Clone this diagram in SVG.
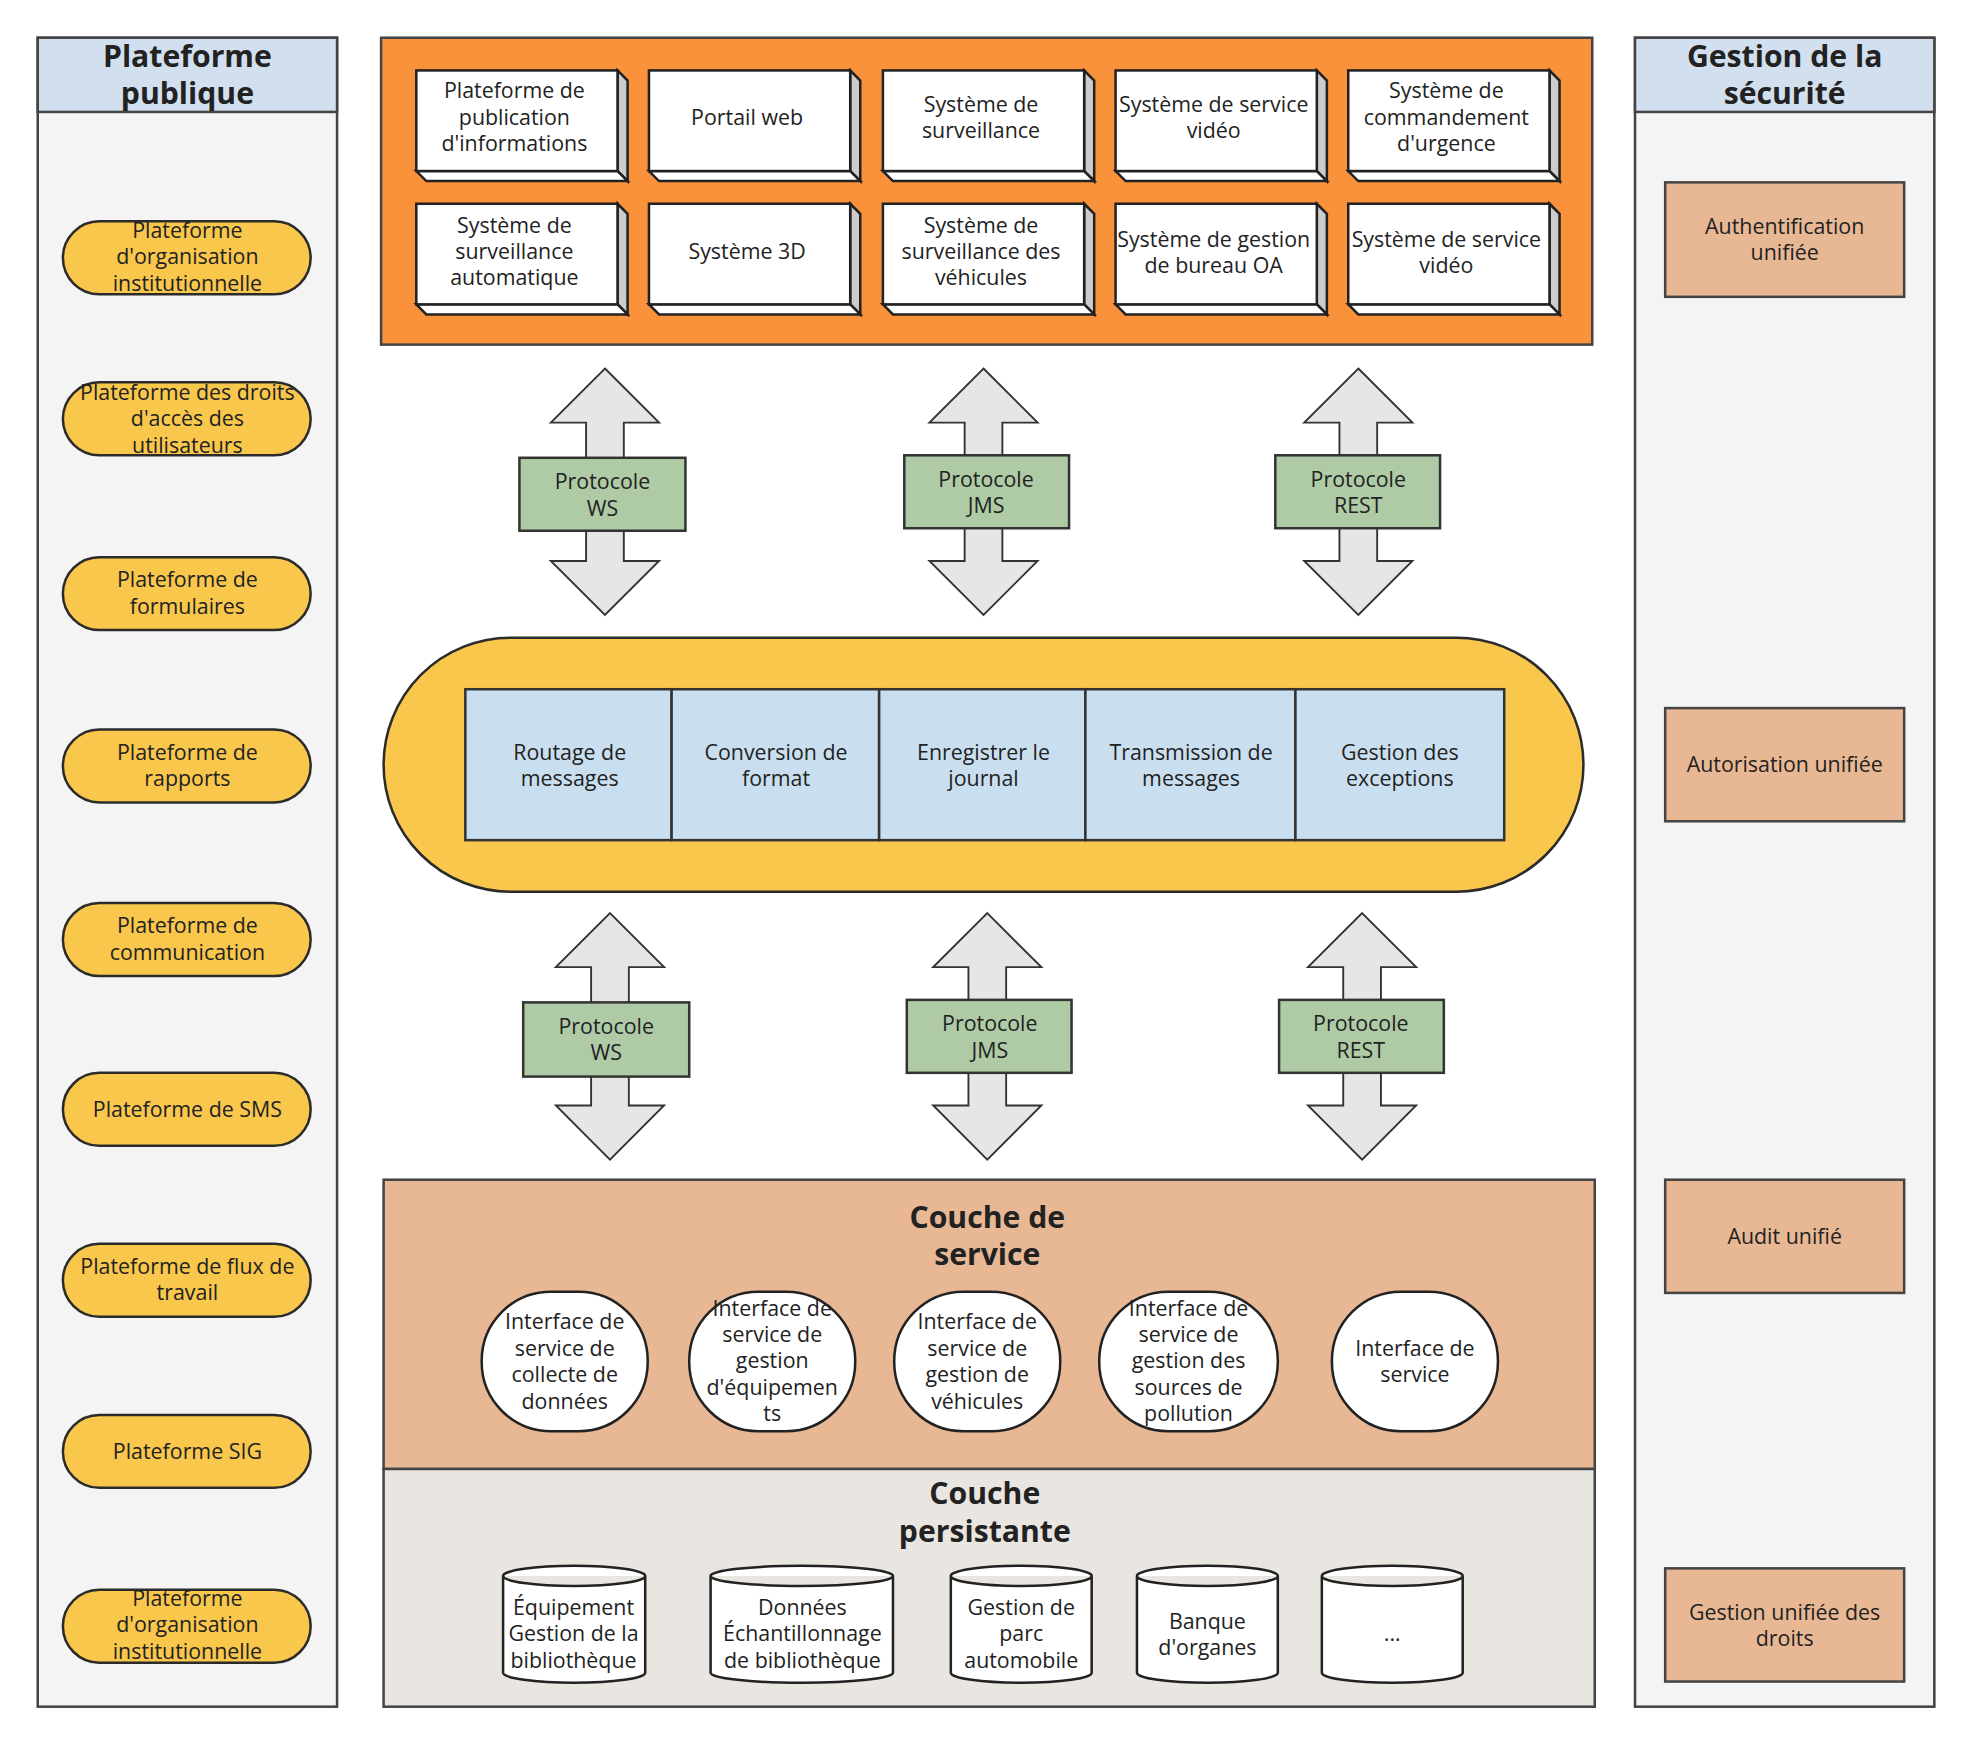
<svg xmlns="http://www.w3.org/2000/svg" width="1972" height="1744" viewBox="0 0 1972 1744">
<defs>
<style>
text{font-family:"Open Sans","Noto Sans","Liberation Sans",sans-serif;font-size:17px;fill:#222;text-anchor:middle}
.t{font-size:24px;font-weight:bold}
.pill{fill:#f9c74c;stroke:#2b2b2b;stroke-width:2}
.hdr{fill:#d1dfee;stroke:#444;stroke-width:2}
.pan{fill:#f4f4f4;stroke:#444;stroke-width:2}
.sec{fill:#e8b894;stroke:#444;stroke-width:2}
.bx{fill:#fff;stroke:#222;stroke-width:2}
.sd{fill:#ccc;stroke:#222;stroke-width:2}
.arr{fill:#e8e6e4;stroke:#333;stroke-width:1.5}
.pr{fill:#aecba6;stroke:#333;stroke-width:2}
.mb{fill:#c9dff0;stroke:#333;stroke-width:2}
.cy{fill:#fff;stroke:#222;stroke-width:2}
</style>
<path id="ar" d="M0,0 L43,43 L15,43 L15,153 L43,153 L0,196 L-43,153 L-15,153 L-15,43 L-43,43 Z"/>
</defs>
<rect width="1972" height="1744" fill="#fff"/>
<g transform="scale(1.2577)">
<g id="left">
<rect class="pan" x="30" y="30" width="238" height="1327"/>
<rect class="hdr" x="30" y="30" width="238" height="59"/>
<text class="t" x="149" y="53">Plateforme</text><text class="t" x="149" y="83">publique</text>
<rect class="pill" x="50" y="176" width="197" height="58" rx="29"/><text x="149" y="189">Plateforme</text><text x="149" y="210">d'organisation</text><text x="149" y="231">institutionnelle</text>
<rect class="pill" x="50" y="304" width="197" height="58" rx="29"/><text x="149" y="318">Plateforme des droits</text><text x="149" y="339">d'accès des</text><text x="149" y="360">utilisateurs</text>
<rect class="pill" x="50" y="443" width="197" height="58" rx="29"/><text x="149" y="467">Plateforme de</text><text x="149" y="488">formulaires</text>
<rect class="pill" x="50" y="580" width="197" height="58" rx="29"/><text x="149" y="604">Plateforme de</text><text x="149" y="625">rapports</text>
<rect class="pill" x="50" y="718" width="197" height="58" rx="29"/><text x="149" y="742">Plateforme de</text><text x="149" y="763">communication</text>
<rect class="pill" x="50" y="853" width="197" height="58" rx="29"/><text x="149" y="888">Plateforme de SMS</text>
<rect class="pill" x="50" y="989" width="197" height="58" rx="29"/><text x="149" y="1013">Plateforme de flux de</text><text x="149" y="1034">travail</text>
<rect class="pill" x="50" y="1125" width="197" height="58" rx="29"/><text x="149" y="1160">Plateforme SIG</text>
<rect class="pill" x="50" y="1264" width="197" height="58" rx="29"/><text x="149" y="1277">Plateforme</text><text x="149" y="1298">d'organisation</text><text x="149" y="1319">institutionnelle</text>
</g>
<g id="right">
<rect class="pan" x="1300" y="30" width="238" height="1327"/>
<rect class="hdr" x="1300" y="30" width="238" height="59"/>
<text class="t" x="1419" y="53">Gestion de la</text><text class="t" x="1419" y="83">sécurité</text>
<rect class="sec" x="1324" y="145" width="190" height="91"/><text x="1419" y="186">Authentification</text><text x="1419" y="207">unifiée</text>
<rect class="sec" x="1324" y="563" width="190" height="90"/><text x="1419" y="614">Autorisation unifiée</text>
<rect class="sec" x="1324" y="938" width="190" height="90"/><text x="1419" y="989">Audit unifié</text>
<rect class="sec" x="1324" y="1247" width="190" height="90"/><text x="1419" y="1288">Gestion unifiée des</text><text x="1419" y="1309">droits</text>
</g>
<g id="apps">
<rect x="303" y="30" width="963" height="244" fill="#fa923c" stroke="#444" stroke-width="2"/>
<g id="b3d">
<g id="c1" transform="translate(331,56)"><path class="sd" d="M160,0 L168,8 L168,88 L160,80 Z"/><path class="bx" d="M0,80 L160,80 L168,88 L8,88 Z"/><rect class="bx" x="0" y="0" width="160" height="80"/></g>
</g>
<use href="#c1" x="185"/><use href="#c1" x="371"/><use href="#c1" x="556"/><use href="#c1" x="741"/>
<use href="#c1" y="106"/><use href="#c1" x="185" y="106"/><use href="#c1" x="371" y="106"/><use href="#c1" x="556" y="106"/><use href="#c1" x="741" y="106"/>
<text x="409" y="78">Plateforme de</text><text x="409" y="99">publication</text><text x="409" y="120">d'informations</text>
<text x="594" y="99">Portail web</text>
<text x="780" y="89">Système de</text><text x="780" y="110">surveillance</text>
<text x="965" y="89">Système de service</text><text x="965" y="110">vidéo</text>
<text x="1150" y="78">Système de</text><text x="1150" y="99">commandement</text><text x="1150" y="120">d'urgence</text>
<text x="409" y="185">Système de</text><text x="409" y="206">surveillance</text><text x="409" y="227">automatique</text>
<text x="594" y="206">Système 3D</text>
<text x="780" y="185">Système de</text><text x="780" y="206">surveillance des</text><text x="780" y="227">véhicules</text>
<text x="965" y="196">Système de gestion</text><text x="965" y="217">de bureau OA</text>
<text x="1150" y="196">Système de service</text><text x="1150" y="217">vidéo</text>
</g>
<g id="connectors">
<use href="#ar" class="arr" x="481" y="293"/><use href="#ar" class="arr" x="782" y="293"/><use href="#ar" class="arr" x="1080" y="293"/>
<use href="#ar" class="arr" x="485" y="726"/><use href="#ar" class="arr" x="785" y="726"/><use href="#ar" class="arr" x="1083" y="726"/>
</g>
<g id="protocols">
<rect class="pr" x="413" y="364" width="132" height="58"/><text x="479" y="389">Protocole</text><text x="479" y="410">WS</text>
<rect class="pr" x="719" y="362" width="131" height="58"/><text x="784" y="387">Protocole</text><text x="784" y="408">JMS</text>
<rect class="pr" x="1014" y="362" width="131" height="58"/><text x="1080" y="387">Protocole</text><text x="1080" y="408">REST</text>
<rect class="pr" x="416" y="797" width="132" height="59"/><text x="482" y="822">Protocole</text><text x="482" y="843">WS</text>
<rect class="pr" x="721" y="795" width="131" height="58"/><text x="787" y="820">Protocole</text><text x="787" y="841">JMS</text>
<rect class="pr" x="1017" y="795" width="131" height="58"/><text x="1082" y="820">Protocole</text><text x="1082" y="841">REST</text>
</g>
<g id="bus">
<rect x="305" y="507" width="954" height="202" rx="101" fill="#f9c74c" stroke="#2b2b2b" stroke-width="2"/>
<rect class="mb" x="370" y="548" width="164" height="120"/><text x="453" y="604">Routage de</text><text x="453" y="625">messages</text>
<rect class="mb" x="534" y="548" width="165" height="120"/><text x="617" y="604">Conversion de</text><text x="617" y="625">format</text>
<rect class="mb" x="699" y="548" width="164" height="120"/><text x="782" y="604">Enregistrer le</text><text x="782" y="625">journal</text>
<rect class="mb" x="863" y="548" width="167" height="120"/><text x="947" y="604">Transmission de</text><text x="947" y="625">messages</text>
<rect class="mb" x="1030" y="548" width="166" height="120"/><text x="1113" y="604">Gestion des</text><text x="1113" y="625">exceptions</text>
</g>
<g id="service">
<rect x="305" y="938" width="963" height="230" fill="#e8b894" stroke="#444" stroke-width="2"/>
<text class="t" x="785" y="976">Couche de</text><text class="t" x="785" y="1006">service</text>
<rect class="bx" x="383" y="1027" width="132" height="111" rx="55"/><text x="449" y="1057">Interface de</text><text x="449" y="1078">service de</text><text x="449" y="1099">collecte de</text><text x="449" y="1120">données</text>
<rect class="bx" x="548" y="1027" width="132" height="111" rx="55"/><text x="614" y="1046">Interface de</text><text x="614" y="1067">service de</text><text x="614" y="1088">gestion</text><text x="614" y="1109">d'équipemen</text><text x="614" y="1130">ts</text>
<rect class="bx" x="711" y="1027" width="132" height="111" rx="55"/><text x="777" y="1057">Interface de</text><text x="777" y="1078">service de</text><text x="777" y="1099">gestion de</text><text x="777" y="1120">véhicules</text>
<rect class="bx" x="874" y="1027" width="142" height="111" rx="55"/><text x="945" y="1046">Interface de</text><text x="945" y="1067">service de</text><text x="945" y="1088">gestion des</text><text x="945" y="1109">sources de</text><text x="945" y="1130">pollution</text>
<rect class="bx" x="1059" y="1027" width="132" height="111" rx="55"/><text x="1125" y="1078">Interface de</text><text x="1125" y="1099">service</text>
</g>
<g id="persist">
<rect x="305" y="1168" width="963" height="189" fill="#e9e5e1" stroke="#444" stroke-width="2"/>
<text class="t" x="783" y="1196">Couche</text><text class="t" x="783" y="1226">persistante</text>
<path class="cy" d="M400,1253 A56.5,8 0 0 1 513,1253 L513,1330 A56.5,8 0 0 1 400,1330 Z M400,1253 A56.5,8 0 0 0 513,1253"/>
<text x="456" y="1284">Équipement</text><text x="456" y="1305">Gestion de la</text><text x="456" y="1326">bibliothèque</text>
<path class="cy" d="M565,1253 A72.5,8 0 0 1 710,1253 L710,1330 A72.5,8 0 0 1 565,1330 Z M565,1253 A72.5,8 0 0 0 710,1253"/>
<text x="638" y="1284">Données</text><text x="638" y="1305">Échantillonnage</text><text x="638" y="1326">de bibliothèque</text>
<path class="cy" d="M756,1253 A56,8 0 0 1 868,1253 L868,1330 A56,8 0 0 1 756,1330 Z M756,1253 A56,8 0 0 0 868,1253"/>
<text x="812" y="1284">Gestion de</text><text x="812" y="1305">parc</text><text x="812" y="1326">automobile</text>
<path class="cy" d="M904,1253 A56,8 0 0 1 1016,1253 L1016,1330 A56,8 0 0 1 904,1330 Z M904,1253 A56,8 0 0 0 1016,1253"/>
<text x="960" y="1295">Banque</text><text x="960" y="1316">d'organes</text>
<path class="cy" d="M1051,1253 A56,8 0 0 1 1163,1253 L1163,1330 A56,8 0 0 1 1051,1330 Z M1051,1253 A56,8 0 0 0 1163,1253"/>
<text x="1107" y="1305">...</text>
</g>
</g>
</svg>
